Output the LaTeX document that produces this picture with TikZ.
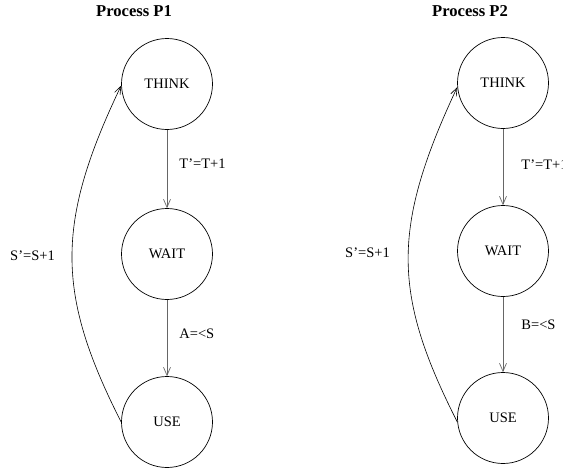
\documentclass[tikz,border=0pt]{standalone}
\usepackage{fontspec}
\setmainfont{Liberation Serif}
\usetikzlibrary{arrows.meta}
\tikzset{
  state/.style={draw=black, line width=0.7pt, circle, minimum size=91pt, inner sep=0pt, font=\fontsize{14.5}{17}\selectfont},
  lbl/.style={font=\fontsize{14.5}{17}\selectfont, inner sep=0pt},
  ttl/.style={font=\fontsize{16.6}{19}\selectfont\bfseries, inner sep=0pt},
  trans/.style={draw=black!60, line width=0.8pt, -{Straight Barb[length=8pt,width=7pt,line width=0.7pt]}},
  back/.style={draw=black, line width=0.6pt, -{Straight Barb[length=8pt,width=6pt,line width=0.6pt]}}
}
\begin{document}
\begin{tikzpicture}[x=1pt,y=-1pt]
\useasboundingbox (0,0) rectangle (563,472);
% Process P1
\node[ttl] (t1) at (134,11) {Process P1};
\node[state] (think1) at (167,84) {THINK};
\node[state] (wait1) at (167,254) {WAIT};
\node[state] (use1) at (167,422) {USE};
\draw[trans] (think1.south) -- (wait1.north) node[lbl, midway, anchor=west, xshift=12pt, yshift=5pt] (l1) {T'=T+1};
\draw[trans] (wait1.south) -- (use1.north) node[lbl, midway, anchor=west, xshift=12pt, yshift=4pt] (l2) {A=<S};
\draw[back] (use1.180) .. controls +(-65,-128) and +(-66,138) .. (think1.182);
\node[lbl, anchor=east] (l3) at (55,256) {S'=S+1};
% Process P2
\node[ttl] (t2) at (470,11) {Process P2};
\node[state] (think2) at (503,83) {THINK};
\node[state] (wait2) at (503,251) {WAIT};
\node[state] (use2) at (503,418) {USE};
\draw[trans] (think2.south) -- (wait2.north) node[lbl, midway, anchor=west, xshift=18pt, yshift=2pt] (l4) {T'=T+1};
\draw[trans] (wait2.south) -- (use2.north) node[lbl, midway, anchor=west, xshift=18pt, yshift=10pt] (l5) {B=<S};
\draw[back] (use2.185) .. controls +(-65,-128) and +(-66,141) .. (think2.185);
\node[lbl, anchor=east] (l6) at (390,253) {S'=S+1};
\end{tikzpicture}
\end{document}
